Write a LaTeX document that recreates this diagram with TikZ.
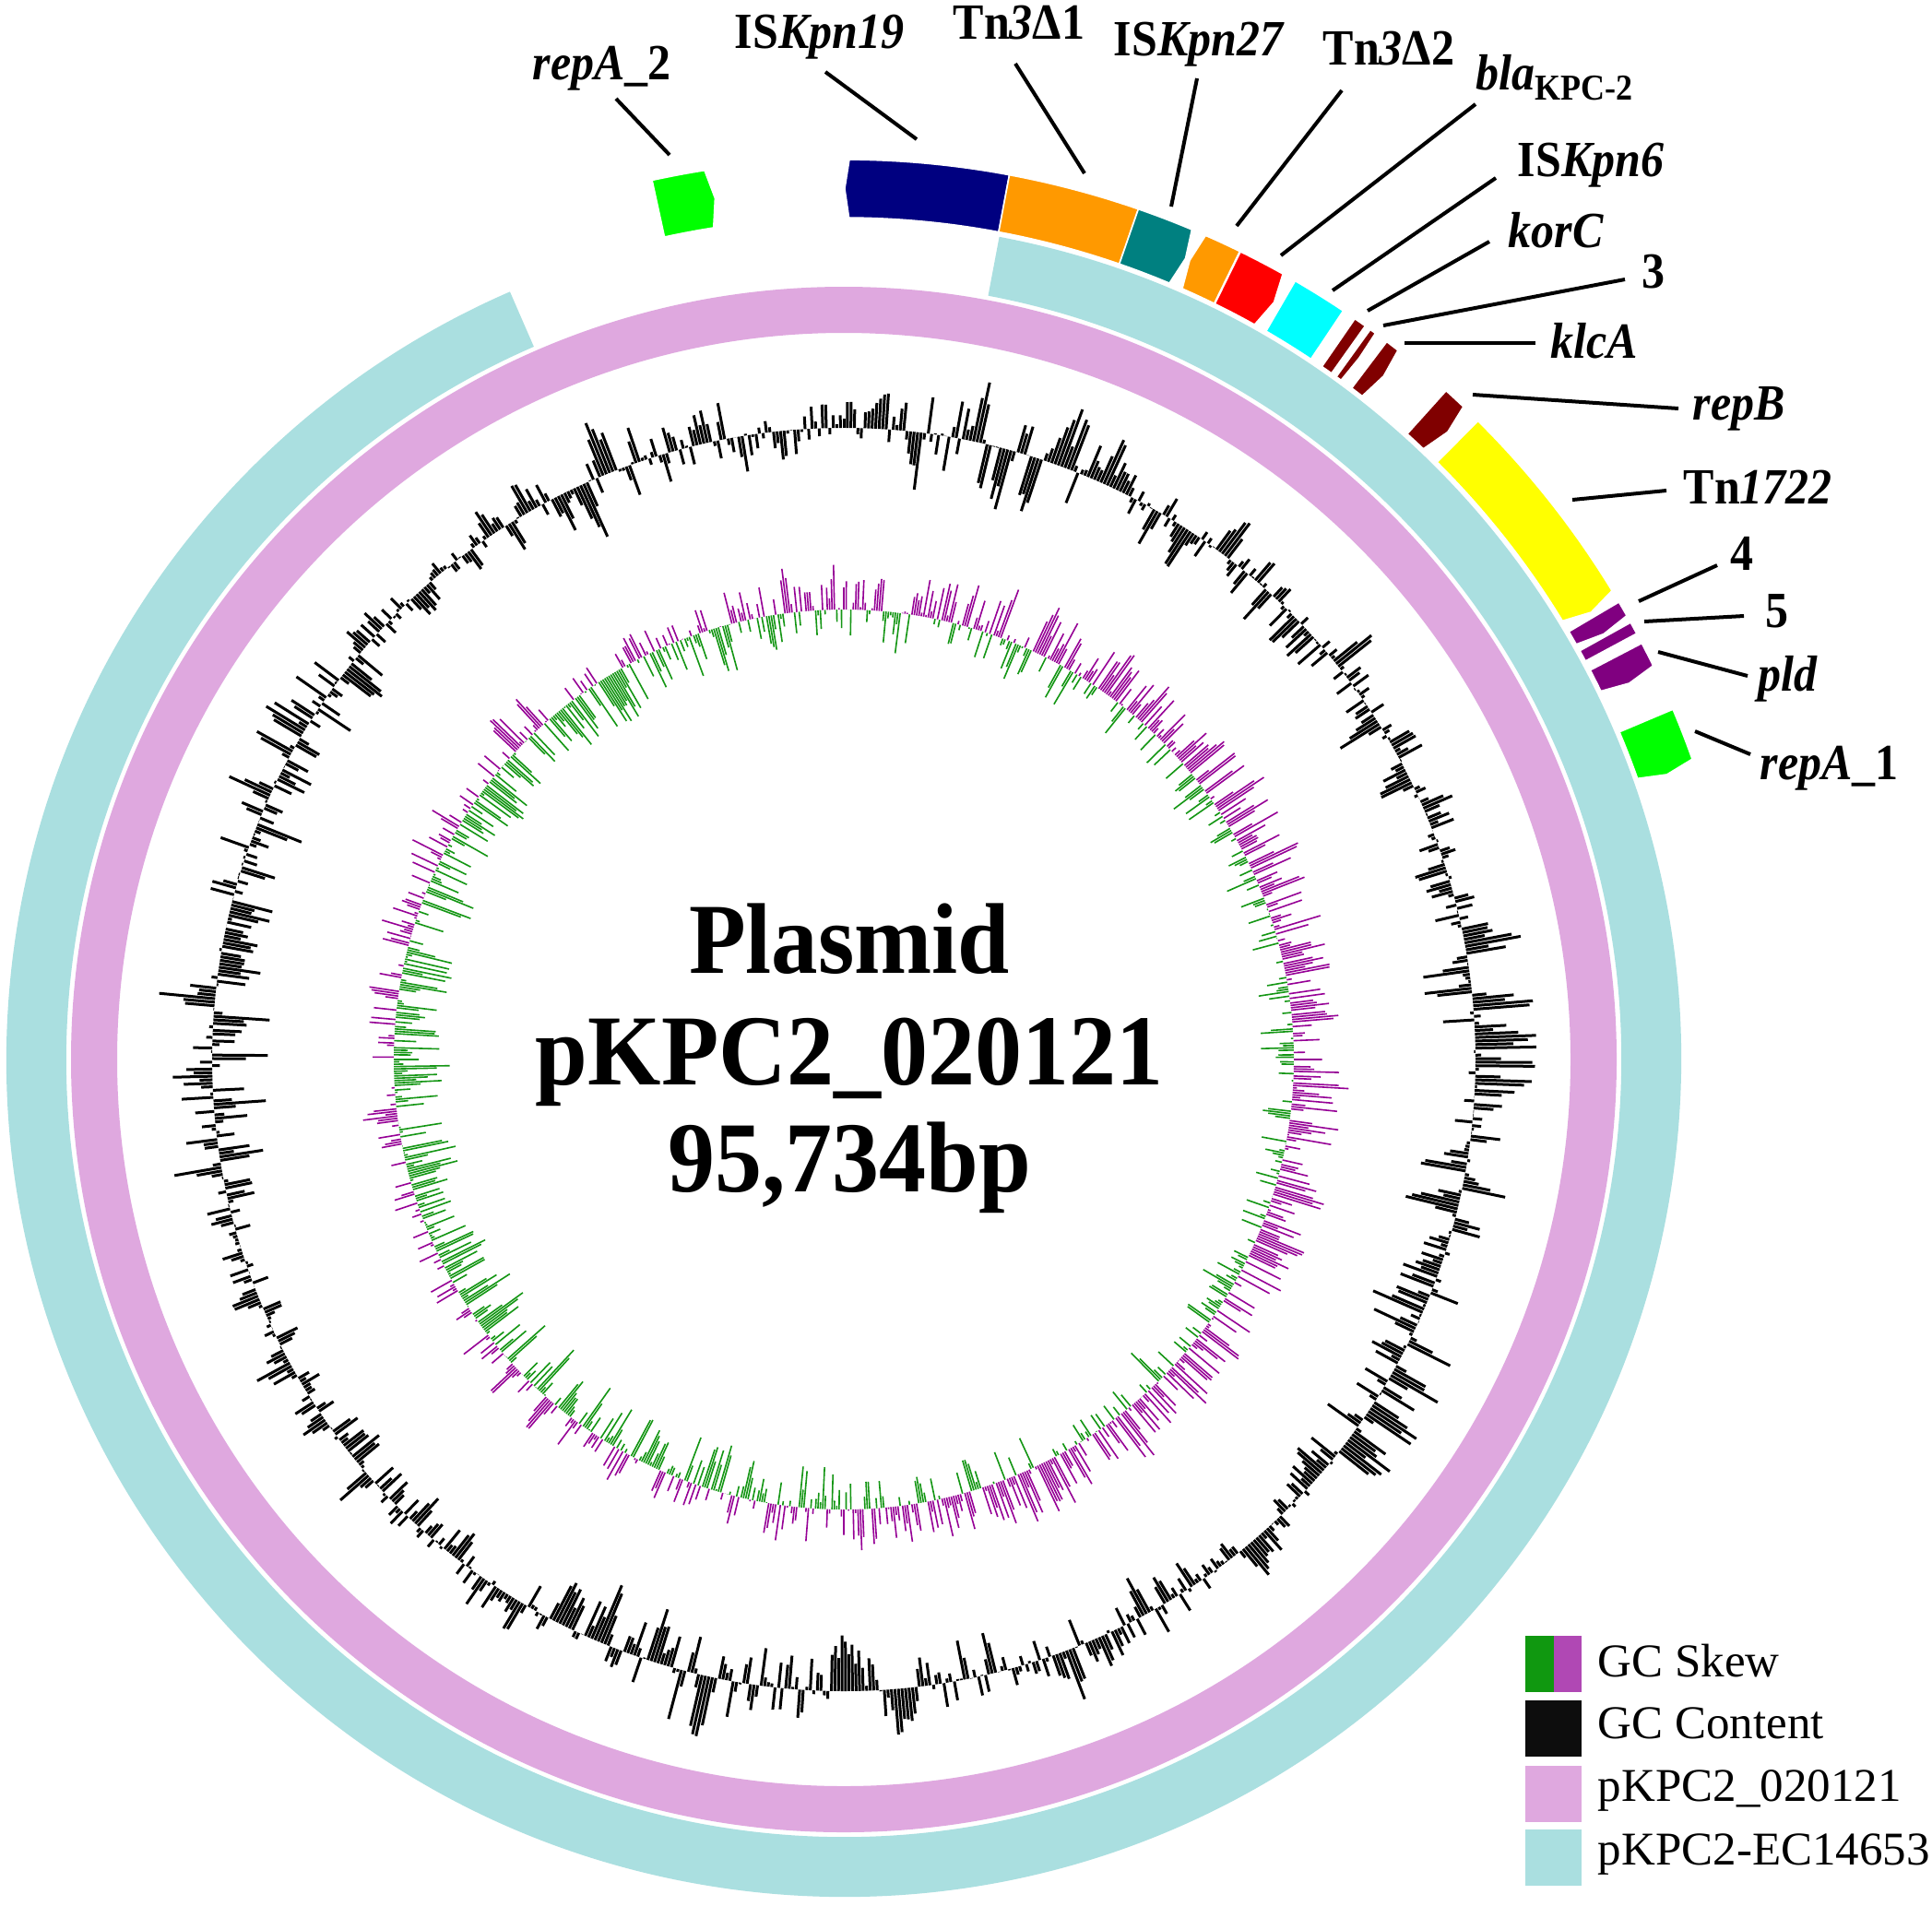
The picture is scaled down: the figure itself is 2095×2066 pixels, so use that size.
\documentclass[tikz,border=0pt]{standalone}
\usepackage{fontspec}
\setmainfont{Liberation Serif}
\definecolor{ringcyan}{RGB}{170,223,224}
\definecolor{ringpink}{RGB}{223,168,223}
\definecolor{gnavy}{RGB}{0,0,128}
\definecolor{gorange}{RGB}{255,153,0}
\definecolor{gteal}{RGB}{0,128,128}
\definecolor{gred}{RGB}{255,0,0}
\definecolor{gcyan}{RGB}{0,255,255}
\definecolor{gdred}{RGB}{128,0,0}
\definecolor{gyellow}{RGB}{255,255,0}
\definecolor{gpurple}{RGB}{128,0,128}
\definecolor{ggreen}{RGB}{0,255,0}
\definecolor{skewgreen}{RGB}{20,150,20}
\definecolor{skewpurple}{RGB}{150,0,150}
\definecolor{leggreen}{RGB}{16,152,16}
\definecolor{legpurple}{RGB}{176,72,180}
\newcommand\tallbox[1]{\scalebox{1}[1.1]{#1}}
\tikzset{
  lab/.style={font=\fontsize{12.5pt}{15pt}\selectfont\bfseries, anchor=base west, inner sep=0pt},
  leader/.style={line width=1pt, black},
  legtxt/.style={font=\fontsize{12.75pt}{15pt}\selectfont, anchor=base west, inner sep=0pt},
  legsq/.style={minimum width=15.25pt, minimum height=15.25pt, inner sep=0pt, draw=none},
  leghalf/.style={minimum width=7.625pt, minimum height=15.25pt, inner sep=0pt, draw=none},
  centertxt/.style={font=\fontsize{25pt}{30pt}\selectfont\bfseries, anchor=base, inner sep=0pt},
  gcline/.style={line width=0.75pt, black},
  skewpos/.style={line width=0.4pt, skewpurple},
  skewneg/.style={line width=0.4pt, skewgreen},
  genebox/.style={draw=white, line width=0.4pt}
}
\def\GRi{913}
\def\GRo{976}
\def\GRm{944.5}
% clockwise arrow: #1 start, #2 end of body, #3 tip, #4 colour
\newcommand\genecw[4]{%
  \filldraw[genebox, fill=#4] ({90-#1}:\GRi) arc[start angle={90-#1}, end angle={90-#2}, radius=\GRi]
    -- ({90-#3}:\GRm) -- ({90-#2}:\GRo) arc[start angle={90-#2}, end angle={90-#1}, radius=\GRo] -- cycle;}
% counter-clockwise arrow: #1 tip, #2 start, #3 end of body, #4 colour
\newcommand\geneccw[4]{%
  \filldraw[genebox, fill=#4] ({90-#2}:\GRi) arc[start angle={90-#2}, end angle={90-#3}, radius=\GRi]
    -- ({90-#3}:\GRo) arc[start angle={90-#3}, end angle={90-#2}, radius=\GRo] -- ({90-#1}:\GRm) -- cycle;}
\begin{document}
\begin{tikzpicture}[x=0.25pt,y=0.25pt]
\useasboundingbox (0,0) rectangle (2095,-2066);
\fill[white] (0,0) rectangle (2095,-2066);
\begin{scope}[shift={(915,-1149)}]
  % rings
  \fill[ringpink, even odd rule] (0,0) circle[radius=838] (0,0) circle[radius=788];
  \fill[ringcyan] (79.3:843) -- (79.3:908) arc[start angle=79.3, end angle=-246.5, radius=908]
     -- (-246.5:843) arc[start angle=-246.5, end angle=79.3, radius=843] -- cycle;
  % GC content
  \pgfmathsetseed{4242}
  \gdef\gcprev{0}
  \foreach \a in {0,0.32,...,359.9}{
    \pgfmathsetmacro\gcv{max(-66,min(66,0.62*\gcprev+(34+16*sin(7*\a)*sin(3*\a+40))*rand))}
    \xdef\gcprev{\gcv}
    \draw[gcline] ({90-\a}:685) -- ({90-\a}:{685+\gcv});
  }
  % GC skew
  \gdef\skprev{0}
  \foreach \a in {0,0.3,...,359.9}{
    \pgfmathsetmacro\skv{max(-64,min(64,0.25*\skprev+42*rand+9*sin(\a)))}
    \xdef\skprev{\skv}
    \ifdim\skv pt>0pt
      \draw[skewpos] ({90-\a}:488) -- ({90-\a}:{488+\skv});
    \else
      \draw[skewneg] ({90-\a}:488) -- ({90-\a}:{488+\skv});
    \fi
  }
  % genes
  \genecw{-12.3}{-8.9}{-8.5}{ggreen}
  \geneccw{0.06}{0.35}{10.6}{gnavy}
  \genecw{10.6}{19.1}{19.1}{gorange}
  \genecw{19.1}{22.75}{23.1}{gteal}
  \geneccw{23.4}{23.7}{26.1}{gorange}
  \genecw{26.15}{29.2}{29.6}{gred}
  \genecw{30.1}{33.7}{33.7}{gcyan}
  \genecw{34.6}{35.4}{35.4}{gdred}
  \genecw{35.8}{36.2}{36.3}{gdred}
  \genecw{37.1}{38.0}{38.3}{gdred}
  \genecw{42.0}{43.5}{43.9}{gdred}
  \genecw{44.8}{58.6}{59.1}{gyellow}
  \genecw{59.45}{60.45}{60.75}{gpurple}
  \genecw{60.95}{61.75}{61.75}{gpurple}
  \genecw{62.45}{64.05}{64.4}{gpurple}
  \genecw{67.1}{70.5}{70.9}{ggreen}
\end{scope}
% centre title
\node[centertxt] (t1) at (921,-1055) {\scalebox{1.01}[1.09]{Plasmid}};
\node[centertxt] (t2) at (921,-1176) {\scalebox{1.02}[1.09]{pKPC2\_020121}};
\node[centertxt] (t3) at (921,-1292) {\scalebox{1.02}[1.09]{95,734bp}};
% labels
\node[lab] (lRepA2) at (577,-86) {\tallbox{\textit{repA}\_2}};
\node[lab] (lISKpn19) at (796,-52) {\tallbox{IS\textit{Kpn19}}};
\node[lab] (lTnA) at (1033,-42) {\tallbox{Tn\textit{3}Δ1}};
\node[lab] (lISKpn27) at (1207,-60) {\tallbox{IS\textit{Kpn27}}};
\node[lab] (lTnB) at (1434,-70) {\tallbox{Tn\textit{3}Δ2}};
\node[lab] (lbla) at (1600,-97) {\tallbox{\textit{bla}\raisebox{-2.6pt}{\fontsize{9pt}{10pt}\selectfont KPC-2}}};
\node[lab] (lISKpn6) at (1645,-191) {\tallbox{IS\textit{Kpn6}}};
\node[lab] (lkorC) at (1635,-268) {\tallbox{\textit{korC}}};
\node[lab] (lthree) at (1780,-312) {\tallbox{3}};
\node[lab] (lklcA) at (1681,-388) {\tallbox{\textit{klcA}}};
\node[lab] (lrepB) at (1835,-455) {\tallbox{\textit{repB}}};
\node[lab] (lTn1722) at (1825,-546) {\tallbox{Tn\textit{1722}}};
\node[lab] (lfour) at (1876,-618) {\tallbox{4}};
\node[lab] (lfive) at (1914,-680) {\tallbox{5}};
\node[lab] (lpld) at (1906,-749) {\tallbox{\textit{pld}}};
\node[lab] (lRepA1) at (1908,-845) {\tallbox{\textit{repA}\_1}};
% leader lines
\coordinate (a1) at (668,-107);   \coordinate (b1) at (726,-168);
\coordinate (a2) at (895,-78);    \coordinate (b2) at (994,-151);
\coordinate (a3) at (1101,-69);   \coordinate (b3) at (1176,-188);
\coordinate (a4) at (1298,-85);   \coordinate (b4) at (1270,-224);
\coordinate (a5) at (1455,-98);   \coordinate (b5) at (1341,-245);
\coordinate (a6) at (1600,-113);  \coordinate (b6) at (1389,-277);
\coordinate (a7) at (1622,-193);  \coordinate (b7) at (1445,-315);
\coordinate (a8) at (1615,-262);  \coordinate (b8) at (1483,-337);
\coordinate (a9) at (1762,-303);  \coordinate (b9) at (1500,-353);
\coordinate (a10) at (1665,-372); \coordinate (b10) at (1523,-372);
\coordinate (a11) at (1820,-443); \coordinate (b11) at (1597,-428);
\coordinate (a12) at (1807,-532); \coordinate (b12) at (1705,-542);
\coordinate (a13) at (1862,-613); \coordinate (b13) at (1777,-652);
\coordinate (a14) at (1891,-668); \coordinate (b14) at (1783,-674);
\coordinate (a15) at (1895,-733); \coordinate (b15) at (1798,-707);
\coordinate (a16) at (1898,-818); \coordinate (b16) at (1838,-793);
\foreach \i in {1,...,16}{\draw[leader] (a\i) -- (b\i);}
% legend
\node[leghalf, fill=leggreen] (sq1a) at (1669.5,-1804.5) {};
\node[leghalf, fill=legpurple] (sq1b) at (1700,-1804.5) {};
\node[legsq, fill=black!95] (sq2) at (1684.5,-1874.5) {};
\node[legsq, fill=ringpink] (sq3) at (1684.5,-1945) {};
\node[legsq, fill=ringcyan] (sq4) at (1684.5,-2014) {};
\node[legtxt] (lg1) at (1732,-1818) {GC Skew};
\node[legtxt] (lg2) at (1732,-1885) {GC Content};
\node[legtxt] (lg3) at (1732,-1953) {pKPC2\_020121};
\node[legtxt] (lg4) at (1732,-2022) {pKPC2-EC14653};
\end{tikzpicture}
\end{document}
